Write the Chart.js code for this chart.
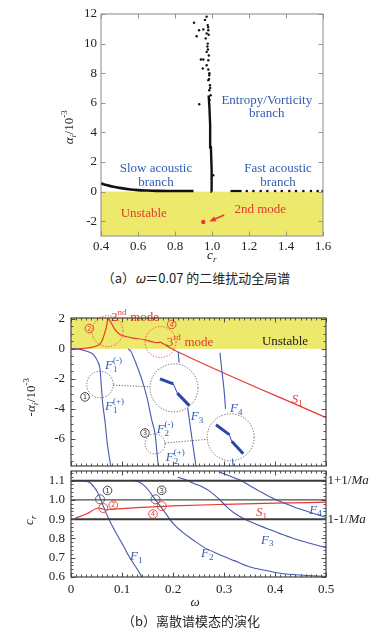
<!DOCTYPE html>
<html><head><meta charset="utf-8">
<script src="https://cdn.jsdelivr.net/npm/chart.js@4.4.1/dist/chart.umd.min.js"></script>
<style>
html,body{margin:0;padding:0;background:#fff;width:381px;height:636px;overflow:hidden;position:relative}
canvas{position:absolute;left:0}
.cap{position:absolute;transform:translateX(-50%);font-family:"Noto Sans CJK SC",sans-serif;font-size:13px;line-height:18px;color:#231f20;white-space:nowrap}
</style></head><body>
<canvas id="ca" width="381" height="262" style="top:0px"></canvas>
<canvas id="cb1" width="381" height="168" style="top:300px"></canvas>
<canvas id="cb2" width="381" height="168" style="top:468px"></canvas>
<div class="cap" style="left:196px;top:269px">（a）<i>ω</i>＝0.07 的二维扰动全局谱</div>
<div class="cap" style="left:191px;top:612px">（b）离散谱模态的演化</div>
<script>
// ---------------- data: panel (a) ----------------
const A_X_TICKS = [0.4, 0.6, 0.8, 1.0, 1.2, 1.4, 1.6];
const A_Y_TICKS = [-2, 0, 2, 4, 6, 8, 10, 12];
const UNSTABLE_A = [-3, 0];
const ENTROPY_CR = [1.000, 0.998, 0.994, 0.990, 0.986, 0.982];
const ENTROPY_AI = [0.0, 1.5, 3.0, 4.5, 5.7, 6.5];
const ENTROPY_PTS_CR = [0.971,0.962,0.903,0.977,0.953,0.930,0.971,0.917,0.966,0.977,0.980,0.971,0.953,0.940,0.980,0.971,0.950,0.980,0.985,0.980,0.989,0.985,0.993,0.931,0.975,0.983,0.978,0.986,0.990,0.984,1.007,0.982,0.979,0.987];
const ENTROPY_PTS_AI = [11.82,11.60,11.41,11.25,10.96,10.90,10.69,10.50,10.35,10.00,10.90,9.44,8.93,8.93,8.88,8.54,8.32,8.25,7.86,7.53,7.19,6.85,6.51,5.90,9.80,9.20,9.60,8.00,7.00,7.60,1.10,10.60,11.10,6.20];
const SLOW_CR = [0.40,0.43,0.46,0.50,0.55,0.60,0.65,0.70,0.80,0.90];
const SLOW_AI = [0.56,0.44,0.34,0.25,0.16,0.10,0.07,0.05,0.04,0.04];
const FAST_LINE_CR = [1.10, 1.16];
const FAST_LINE_AI = [0.04, 0.04];
const FAST_DOT_CR = [1.188,1.224,1.263,1.299,1.341,1.377,1.418,1.454,1.494,1.535,1.571,1.598];
const FAST_DOT_AI = [0.04,0.04,0.04,0.04,0.04,0.04,0.04,0.04,0.04,0.04,0.04,0.04];
const MODE2_CR = [0.953];
const MODE2_AI = [-2.05];

// ---------------- data: panel (b) top, -alpha_i vs omega ----------------
const B_X_TICKS = [0, 0.1, 0.2, 0.3, 0.4, 0.5];
const B1_Y_TICKS = [-6, -4, -2, 0, 2];
const UNSTABLE_B = [0, 2.05];
const S1_W = [0, 0.02, 0.04, 0.052, 0.057, 0.062, 0.066, 0.069, 0.072, 0.0735, 0.078, 0.086, 0.096, 0.109, 0.125, 0.142, 0.165, 0.1705, 0.1745, 0.181, 0.194, 0.207, 0.5];
const S1_V = [0, 0.02, 0.10, 0.22, 0.33, 0.62, 1.05, 1.40, 1.90, 2.00, 1.77, 1.29, 0.95, 0.80, 0.70, 0.62, 0.42, 0.41, 0.44, 0.33, 0.07, -0.16, -4.58];
const F1_W = [0, 0.015, 0.031, 0.044, 0.052, 0.057, 0.059, 0.062, 0.067, 0.071, 0.078];
const F1_V = [0, -0.02, -0.16, -0.38, -0.82, -1.38, -2.27, -3.6, -4.93, -6.27, -7.8];
const F2_W = [0.112, 0.117, 0.123, 0.132, 0.141, 0.150, 0.158, 0.165, 0.168, 0.171];
const F2_V = [0, -0.15, -0.6, -1.38, -2.27, -3.38, -4.7, -5.7, -6.7, -7.8];
const F3A_W = [0.2104, 0.2118];
const F3A_V = [-0.2, -0.93];
const F3B_W = [0.2288, 0.2366, 0.245];
const F3B_V = [-3.93, -5.83, -7.8];
const F4A_W = [0.292, 0.296, 0.300, 0.303];
const F4A_V = [-0.27, -1.5, -2.7, -4.0];
const F4B_W = [0.3163, 0.318];
const F4B_V = [-7.3, -7.8];
const INSET1_W = [0.1745, 0.2006, 0.2084, 0.2320];
const INSET1_V = [-2.0, -2.33, -2.95, -3.78];
const INSET2_W = [0.2843, 0.3104, 0.3151, 0.3378];
const INSET2_V = [-5.05, -5.71, -6.15, -6.98];

// ---------------- data: panel (b) bottom, c_r vs omega ----------------
const B2_Y_TICKS = [0.6, 0.7, 0.8, 0.9, 1.0, 1.1];
const MA_LEVELS = [1.1, 1.0, 0.9];
const F1C_W = [0, 0.02, 0.03, 0.038, 0.045, 0.052, 0.057, 0.063, 0.07, 0.078, 0.09, 0.1, 0.11, 0.12, 0.13, 0.139];
const F1C_C = [1.1, 1.1, 1.097, 1.088, 1.068, 1.04, 1.01, 0.97, 0.925, 0.88, 0.82, 0.775, 0.725, 0.68, 0.64, 0.6];
const F2C_W = [0.122, 0.13, 0.142, 0.152, 0.161, 0.171, 0.181, 0.2, 0.22, 0.24, 0.26, 0.286, 0.32, 0.351, 0.38, 0.416, 0.45, 0.5];
const F2C_C = [1.1, 1.097, 1.078, 1.05, 1.017, 0.982, 0.947, 0.878, 0.83, 0.791, 0.755, 0.722, 0.685, 0.652, 0.635, 0.617, 0.61, 0.603];
const F3C_W = [0.209, 0.225, 0.24, 0.257, 0.273, 0.29, 0.305, 0.32, 0.338, 0.36, 0.384, 0.41, 0.436, 0.468, 0.5];
const F3C_C = [1.118, 1.105, 1.086, 1.068, 1.043, 1.005, 0.965, 0.932, 0.904, 0.877, 0.852, 0.825, 0.8, 0.775, 0.752];
const F4C_W = [0.292, 0.31, 0.331, 0.35, 0.371, 0.387, 0.403, 0.42, 0.436, 0.452, 0.469, 0.5];
const F4C_C = [1.144, 1.125, 1.103, 1.075, 1.043, 1.02, 1.0, 0.982, 0.965, 0.95, 0.935, 0.91];
const S1C_W = [0.008, 0.03, 0.055, 0.062, 0.068, 0.08, 0.1, 0.13, 0.2, 0.3, 0.4, 0.5];
const S1C_C = [0.905, 0.927, 0.958, 0.953, 0.949, 0.951, 0.955, 0.96, 0.969, 0.977, 0.983, 0.988];

// ---------------- styles ----------------
const SERIF = '"Liberation Serif","Times New Roman",serif';
const BLUE = '#4758ad', RED = '#e8392f', TBLUE = '#2f5db3', YEL = '#ece96c', INK = '#222';

function xy(xs, ys) { return xs.map((x, i) => ({ x: x, y: ys[i] })); }
function lineDs(xs, ys, color, width, extra) {
  return Object.assign({ data: xy(xs, ys), showLine: true, borderColor: color, borderWidth: width,
    pointRadius: 0, fill: false, cubicInterpolationMode: 'monotone' }, extra || {});
}
function ptDs(xs, ys, color, r) {
  return { data: xy(xs, ys), showLine: false, pointRadius: r, pointBorderWidth: 0,
    pointBackgroundColor: color, backgroundColor: color, borderColor: color };
}

function rich(ctx, x, y, parts, o) {
  const s = o.size || 13, fam = o.family || SERIF;
  const small = Math.round(s * 0.66);
  const fnt = (p, sz) => (p.i ? 'italic ' : '') + sz + 'px ' + fam;
  const widths = parts.map(p => {
    if (p.sub !== undefined || p.sup !== undefined) {
      ctx.font = fnt(p, small);
      return Math.max(p.sub ? ctx.measureText(p.sub).width : 0, p.sup ? ctx.measureText(p.sup).width : 0) + 0.5;
    }
    ctx.font = fnt(p, s);
    return ctx.measureText(p.t).width;
  });
  const total = widths.reduce((a, b) => a + b, 0);
  let cx = o.align === 'center' ? x - total / 2 : (o.align === 'right' ? x - total : x);
  ctx.fillStyle = o.color || INK; ctx.textBaseline = 'middle'; ctx.textAlign = 'left';
  parts.forEach((p, k) => {
    if (p.sub !== undefined || p.sup !== undefined) {
      ctx.font = fnt(p, small);
      if (p.sup) ctx.fillText(p.sup, cx, y - s * 0.38);
      if (p.sub) ctx.fillText(p.sub, cx, y + s * 0.3);
    } else {
      ctx.font = fnt(p, s);
      ctx.fillText(p.t, cx, y);
    }
    cx += widths[k];
  });
}

function range(a, b, st) { const r = []; for (let v = a; v <= b + st / 1e4; v += st) r.push(+v.toFixed(4)); return r; }

const deco = {
  id: 'deco',
  beforeDatasetsDraw(chart, args, o) {
    const { ctx, chartArea: a, scales: { x, y } } = chart;
    (o.bands || []).forEach(b => {
      const p0 = Math.min(a.bottom, Math.max(a.top, y.getPixelForValue(b[0])));
      const p1 = Math.min(a.bottom, Math.max(a.top, y.getPixelForValue(b[1])));
      ctx.fillStyle = YEL;
      ctx.fillRect(a.left, Math.min(p0, p1), a.right - a.left, Math.abs(p1 - p0));
    });
  },
  afterDatasetsDraw(chart, args, o) {
    const { ctx, chartArea: a, scales: { x, y } } = chart;
    const P = (u, v) => [x.getPixelForValue(u), y.getPixelForValue(v)];
    ctx.save();
    (o.items || []).forEach(it => {
      ctx.setLineDash([]);
      if (it.type === 'circle') {
        const [px, py] = P(it.x, it.y);
        ctx.beginPath(); ctx.arc(px, py, it.r, 0, Math.PI * 2);
        ctx.strokeStyle = it.color; ctx.lineWidth = it.w || 0.9;
        ctx.setLineDash(it.dash || []); ctx.stroke();
      } else if (it.type === 'link') {
        const [x1, y1] = P(it.a[0], it.a[1]), [x2, y2] = P(it.b[0], it.b[1]);
        const d = Math.hypot(x2 - x1, y2 - y1), ux = (x2 - x1) / d, uy = (y2 - y1) / d;
        ctx.beginPath(); ctx.moveTo(x1 + ux * it.ra, y1 + uy * it.ra); ctx.lineTo(x2 - ux * it.rb, y2 - uy * it.rb);
        ctx.strokeStyle = it.color; ctx.lineWidth = 0.9; ctx.setLineDash([1.2, 1.6]); ctx.stroke();
      } else if (it.type === 'num') {
        const [px, py] = P(it.x, it.y);
        ctx.beginPath(); ctx.arc(px, py, 4.3, 0, Math.PI * 2);
        ctx.strokeStyle = it.color; ctx.lineWidth = 0.9; ctx.stroke();
        ctx.fillStyle = it.color; ctx.font = '7px "DejaVu Sans"'; ctx.textAlign = 'center'; ctx.textBaseline = 'middle';
        ctx.fillText(it.n, px, py + 0.5);
      } else if (it.type === 'text') {
        const [px, py] = P(it.x, it.y);
        rich(ctx, px, py, it.parts, { size: it.size || 13, color: it.color, align: it.align || 'left' });
      } else if (it.type === 'arrow') {
        const [x1, y1] = P(it.a[0], it.a[1]), [x2, y2] = P(it.b[0], it.b[1]);
        const ang = Math.atan2(y2 - y1, x2 - x1);
        ctx.strokeStyle = it.color; ctx.fillStyle = it.color; ctx.lineWidth = 1.4;
        ctx.beginPath(); ctx.moveTo(x1, y1); ctx.lineTo(x2 - 5 * Math.cos(ang), y2 - 5 * Math.sin(ang)); ctx.stroke();
        ctx.beginPath(); ctx.moveTo(x2, y2);
        ctx.lineTo(x2 - 7 * Math.cos(ang - 0.38), y2 - 7 * Math.sin(ang - 0.38));
        ctx.lineTo(x2 - 7 * Math.cos(ang + 0.38), y2 - 7 * Math.sin(ang + 0.38));
        ctx.closePath(); ctx.fill();
      }
    });
    ctx.setLineDash([]);
    ctx.strokeStyle = o.frame;
    const drawT = (vals, len, axis) => {
      vals.forEach(v => {
        ctx.beginPath();
        if (axis === 'x') {
          const px = Math.round(x.getPixelForValue(v)) + 0.5;
          ctx.moveTo(px, a.bottom); ctx.lineTo(px, a.bottom - len);
          ctx.moveTo(px, a.top); ctx.lineTo(px, a.top + len);
        } else {
          const py = Math.round(y.getPixelForValue(v)) + 0.5;
          ctx.moveTo(a.left, py); ctx.lineTo(a.left + len, py);
          ctx.moveTo(a.right, py); ctx.lineTo(a.right - len, py);
        }
        ctx.stroke();
      });
    };
    ctx.lineWidth = 0.9;
    drawT(o.xMajor, 4.5, 'x'); drawT(o.yMajor, 4.5, 'y');
    drawT(o.xMinor || [], 2.5, 'x'); drawT(o.yMinor || [], 2.5, 'y');
    ctx.lineWidth = o.frameW;
    ctx.strokeRect(a.left, a.top, a.right - a.left, a.bottom - a.top);
    ctx.restore();
  },
  afterDraw(chart, args, o) {
    const { ctx, chartArea: a, scales: { y } } = chart;
    ctx.save();
    (o.titles || []).forEach(t => {
      ctx.save(); ctx.translate(t.x, t.y); if (t.rot) ctx.rotate(-Math.PI / 2);
      rich(ctx, 0, 0, t.parts, { size: 13, color: INK, align: 'center' });
      ctx.restore();
    });
    (o.right || []).forEach(r => {
      rich(ctx, a.right + 1.5, y.getPixelForValue(r.v), r.parts, { size: 13, color: INK, align: 'left' });
    });
    ctx.restore();
  }
};

function scalesFor(xmin, xmax, xt, xfmt, ymin, ymax, yt, yfmt, yW, xH, xLabels, xPad, yPad) {
  const tickFont = { family: SERIF, size: 13 };
  return {
    x: { type: 'linear', min: xmin, max: xmax, grid: { display: false, drawTicks: false }, border: { display: false },
      afterBuildTicks: s => { s.ticks = xt.map(v => ({ value: v })); },
      ticks: { display: xLabels, font: tickFont, color: INK, padding: xPad, maxRotation: 0, autoSkip: false, callback: xfmt },
      afterFit: s => { s.height = xH; s.paddingLeft = 0; s.paddingRight = 0; s.paddingTop = 0; s.paddingBottom = 0; } },
    y: { type: 'linear', min: ymin, max: ymax, grid: { display: false, drawTicks: false }, border: { display: false },
      afterBuildTicks: s => { s.ticks = yt.map(v => ({ value: v })); },
      ticks: { font: tickFont, color: INK, padding: yPad, autoSkip: false, callback: yfmt },
      afterFit: s => { s.width = yW; s.paddingLeft = 0; s.paddingRight = 0; s.paddingTop = 0; s.paddingBottom = 0; } }
  };
}

function baseOpts(pad, scales, decoOpts) {
  return {
    responsive: false, animation: false, devicePixelRatio: 1,
    layout: { padding: pad },
    plugins: { legend: { display: false }, tooltip: { enabled: false }, deco: decoOpts },
    scales: scales
  };
}

// ---------------- chart (a) ----------------
const decoA = { bands: [UNSTABLE_A], frame: '#8a8a8a', frameW: 1, xMajor: A_X_TICKS, yMajor: A_Y_TICKS,
  items: [
    { type: 'text', x: 0.697, y: 1.54, parts: [{ t: 'Slow acoustic' }], color: TBLUE, align: 'center' },
    { type: 'text', x: 0.697, y: 0.63, parts: [{ t: 'branch' }], color: TBLUE, align: 'center' },
    { type: 'text', x: 1.357, y: 1.54, parts: [{ t: 'Fast acoustic' }], color: TBLUE, align: 'center' },
    { type: 'text', x: 1.357, y: 0.63, parts: [{ t: 'branch' }], color: TBLUE, align: 'center' },
    { type: 'text', x: 1.296, y: 6.17, parts: [{ t: 'Entropy/Vorticity' }], color: TBLUE, align: 'center' },
    { type: 'text', x: 1.296, y: 5.27, parts: [{ t: 'branch' }], color: TBLUE, align: 'center' },
    { type: 'text', x: 0.631, y: -1.51, parts: [{ t: 'Unstable' }], color: RED, align: 'center' },
    { type: 'text', x: 1.261, y: -1.24, parts: [{ t: '2nd mode' }], color: RED, align: 'center' },
    { type: 'arrow', a: [1.066, -1.58], b: [0.985, -2.02], color: RED }
  ],
  titles: [
    { x: 70, y: 127, rot: true, parts: [{ t: 'α', i: true }, { sub: 'i', i: true }, { t: '/10' }, { sup: '-3' }] },
    { x: 212, y: 256, parts: [{ t: 'c', i: true }, { sub: 'r', i: true }] }
  ] };

new Chart(document.getElementById('ca'), {
  type: 'scatter',
  data: { datasets: [
    lineDs(SLOW_CR, SLOW_AI, '#111', 2.6),
    lineDs(FAST_LINE_CR, FAST_LINE_AI, '#111', 2.2),
    ptDs(FAST_DOT_CR, FAST_DOT_AI, '#111', 1.3),
    lineDs(ENTROPY_CR, ENTROPY_AI, '#111', 2.4, { cubicInterpolationMode: 'default', tension: 0 }),
    ptDs(ENTROPY_PTS_CR, ENTROPY_PTS_AI, '#111', 1.2),
    ptDs(MODE2_CR, MODE2_AI, RED, 2.2)
  ] },
  options: baseOpts({ left: 0, right: 58, top: 14, bottom: 0 },
    scalesFor(0.4, 1.6, A_X_TICKS, v => v.toFixed(1), -3, 12, A_Y_TICKS, v => String(v), 101, 26, true, 3, 4),
    decoA),
  plugins: [deco]
});

// ---------------- chart (b) top ----------------
const thinKink = { segment: { borderWidth: c => (c.p0DataIndex === 1 ? 1 : 3) } };
const decoB1 = { bands: [UNSTABLE_B], frame: '#444', frameW: 1.2, xMajor: B_X_TICKS, yMajor: B1_Y_TICKS,
  xMinor: range(0, 0.5, 0.01), yMinor: range(-7.5, 2, 0.5),
  items: [
    { type: 'circle', x: 0.0569, y: -2.38, r: 13.3, color: '#555', dash: [1.2, 1.6] },
    { type: 'circle', x: 0.202, y: -2.6, r: 24, color: '#555', dash: [1.2, 1.6] },
    { type: 'link', a: [0.0569, -2.38], b: [0.202, -2.6], ra: 13.3, rb: 24, color: '#555' },
    { type: 'circle', x: 0.1647, y: -6.33, r: 10, color: '#555', dash: [1.2, 1.6] },
    { type: 'circle', x: 0.3131, y: -5.89, r: 23.5, color: '#555', dash: [1.2, 1.6] },
    { type: 'link', a: [0.1647, -6.33], b: [0.3131, -5.89], ra: 10, rb: 23.5, color: '#555' },
    { type: 'circle', x: 0.0716, y: 1.17, r: 15.5, color: RED, dash: [1.2, 1.6] },
    { type: 'circle', x: 0.1755, y: 0.45, r: 15.5, color: RED, dash: [1.2, 1.6] },
    { type: 'num', x: 0.0275, y: -3.2, n: '1', color: '#333' },
    { type: 'num', x: 0.145, y: -5.6, n: '3', color: '#333' },
    { type: 'num', x: 0.0359, y: 1.35, n: '2', color: RED },
    { type: 'num', x: 0.1975, y: 1.62, n: '4', color: RED },
    { type: 'text', x: 0.0784, y: 2.07, parts: [{ t: '2' }, { sup: 'nd' }, { t: ' mode' }], color: RED },
    { type: 'text', x: 0.1876, y: 0.44, parts: [{ t: '3' }, { sup: 'rd' }, { t: ' mode' }], color: RED },
    { type: 'text', x: 0.4196, y: 0.5, parts: [{ t: 'Unstable' }], color: INK, align: 'center' },
    { type: 'text', x: 0.4327, y: -3.38, parts: [{ t: 'S', i: true }, { sub: '1' }], color: RED },
    { type: 'text', x: 0.0667, y: -1.1, parts: [{ t: 'F', i: true }, { sub: '1', sup: '(-)' }], color: TBLUE },
    { type: 'text', x: 0.0667, y: -3.83, parts: [{ t: 'F', i: true }, { sub: '1', sup: '(+)' }], color: TBLUE },
    { type: 'text', x: 0.168, y: -5.38, parts: [{ t: 'F', i: true }, { sub: '2', sup: '(-)' }], color: TBLUE },
    { type: 'text', x: 0.186, y: -7.25, parts: [{ t: 'F', i: true }, { sub: '2', sup: '(+)' }], color: TBLUE },
    { type: 'text', x: 0.2347, y: -4.5, parts: [{ t: 'F', i: true }, { sub: '3' }], color: TBLUE },
    { type: 'text', x: 0.3118, y: -4.0, parts: [{ t: 'F', i: true }, { sub: '4' }], color: TBLUE }
  ],
  titles: [
    { x: 32, y: 97, rot: true, parts: [{ t: '-' }, { t: 'α', i: true }, { sub: 'i', i: true }, { t: '/10' }, { sup: '-3' }] }
  ] };

new Chart(document.getElementById('cb1'), {
  type: 'scatter',
  data: { datasets: [
    lineDs(F1_W, F1_V, BLUE, 1.1),
    lineDs(F2_W, F2_V, BLUE, 1.1),
    lineDs(F3A_W, F3A_V, BLUE, 1.1),
    lineDs(F3B_W, F3B_V, BLUE, 1.1),
    lineDs(F4A_W, F4A_V, BLUE, 1.1),
    lineDs(F4B_W, F4B_V, BLUE, 1.1),
    lineDs(INSET1_W, INSET1_V, '#2b46a3', 3, Object.assign({ cubicInterpolationMode: 'default', tension: 0 }, thinKink)),
    lineDs(INSET2_W, INSET2_V, '#2b46a3', 3, Object.assign({ cubicInterpolationMode: 'default', tension: 0 }, thinKink)),
    lineDs(S1_W, S1_V, RED, 1.2)
  ] },
  options: baseOpts({ left: 0, right: 55, top: 18, bottom: 0 },
    scalesFor(0, 0.5, B_X_TICKS, v => String(v), -7.8, 2.05, B1_Y_TICKS, v => String(v), 71, 2, false, 0, 6),
    decoB1),
  plugins: [deco]
});

// ---------------- chart (b) bottom ----------------
const decoB2 = { bands: [], frame: '#444', frameW: 1.2, xMajor: B_X_TICKS, yMajor: B2_Y_TICKS,
  xMinor: range(0, 0.5, 0.01), yMinor: range(0.6, 1.15, 0.02),
  items: [
    { type: 'circle', x: 0.0569, y: 1.003, r: 4.5, color: '#555' },
    { type: 'circle', x: 0.1657, y: 1.003, r: 4.5, color: '#555' },
    { type: 'circle', x: 0.0633, y: 0.958, r: 4.5, color: RED },
    { type: 'circle', x: 0.1778, y: 0.968, r: 4.5, color: RED },
    { type: 'num', x: 0.0716, y: 1.049, n: '1', color: '#333' },
    { type: 'num', x: 0.1778, y: 1.05, n: '3', color: '#333' },
    { type: 'num', x: 0.0829, y: 0.973, n: '2', color: RED },
    { type: 'num', x: 0.1608, y: 0.927, n: '4', color: RED },
    { type: 'text', x: 0.1157, y: 0.705, parts: [{ t: 'F', i: true }, { sub: '1' }], color: TBLUE },
    { type: 'text', x: 0.2549, y: 0.722, parts: [{ t: 'F', i: true }, { sub: '2' }], color: TBLUE },
    { type: 'text', x: 0.3725, y: 0.791, parts: [{ t: 'F', i: true }, { sub: '3' }], color: TBLUE },
    { type: 'text', x: 0.4673, y: 0.947, parts: [{ t: 'F', i: true }, { sub: '4' }], color: TBLUE },
    { type: 'text', x: 0.3627, y: 0.933, parts: [{ t: 'S', i: true }, { sub: '1' }], color: RED }
  ],
  right: [
    { v: MA_LEVELS[0], parts: [{ t: '1+1/' }, { t: 'Ma', i: true }] },
    { v: MA_LEVELS[2], parts: [{ t: '1-1/' }, { t: 'Ma', i: true }] }
  ],
  titles: [
    { x: 30, y: 52, rot: true, parts: [{ t: 'c', i: true }, { sub: 'r', i: true }] },
    { x: 195, y: 135, parts: [{ t: 'ω', i: true }] }
  ] };

new Chart(document.getElementById('cb2'), {
  type: 'scatter',
  data: { datasets: [
    lineDs([0, 0.5], [MA_LEVELS[0], MA_LEVELS[0]], '#3a3a3a', 2),
    lineDs([0, 0.5], [MA_LEVELS[1], MA_LEVELS[1]], '#4a4a4a', 1.1),
    lineDs([0, 0.5], [MA_LEVELS[2], MA_LEVELS[2]], '#3a3a3a', 2),
    lineDs(F1C_W, F1C_C, BLUE, 1.1),
    lineDs(F2C_W, F2C_C, BLUE, 1.1),
    lineDs(F3C_W, F3C_C, BLUE, 1.1),
    lineDs(F4C_W, F4C_C, BLUE, 1.1),
    lineDs(S1C_W, S1C_C, RED, 1.2)
  ] },
  options: baseOpts({ left: 0, right: 55, top: 3, bottom: 0 },
    scalesFor(0, 0.5, B_X_TICKS, v => String(v), 0.6, 1.15, B2_Y_TICKS, v => v.toFixed(1), 71, 59, true, 5, 6),
    decoB2),
  plugins: [deco]
});
</script>
</body></html>
